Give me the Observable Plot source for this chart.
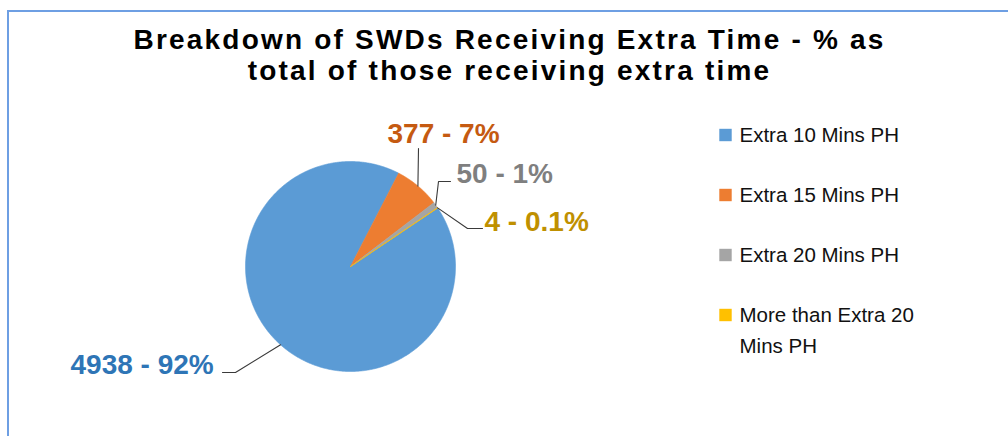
<!DOCTYPE html>
<html><head><meta charset="utf-8">
<script src="https://cdn.jsdelivr.net/npm/d3@7"></script>
<script src="https://cdn.jsdelivr.net/npm/@observablehq/plot@0.6"></script>
<style>body{margin:0;background:#fff;} svg{display:block;}</style>
</head><body><div id="chart"></div>
<script>
// ---- data ----
const categories = ["Extra 10 Mins PH", "Extra 15 Mins PH", "Extra 20 Mins PH", "More than Extra 20 Mins PH"];
const counts = [4938, 377, 50, 4];
const pctLabels = ["92%", "7%", "1%", "0.1%"];
const titleLines = ["Breakdown of SWDs Receiving Extra Time - % as", "total of those receiving extra time"];
const legendLines = [["Extra 10 Mins PH"], ["Extra 15 Mins PH"], ["Extra 20 Mins PH"], ["More than Extra 20", "Mins PH"]];

// ---- styles / layout ----
const sliceColors = ["#5B9BD5", "#ED7D31", "#A5A5A5", "#FFC000"];
const labelColors = ["#2E75B6", "#C55A11", "#7F7F7F", "#BF9000"];
const W = 1008, H = 436, cx = 350, cy = 266, R = 105;
const firstSliceAngle = 56.2; // degrees clockwise from 12 o'clock
const FONT = "'Liberation Sans', Arial, sans-serif";
const titleFs = 28, titleLs = 2.2, labelFs = 28, legendFs = 20.5;
const titleX = 509, titleBaselines = [48, 79];
const labelPos = [[70, 373], [387, 142], [456, 182], [484, 230]];
const leaderBends = [[[235, 372], [222, 372]], [[418, 148]], [[438, 181], [450, 181]], [[467, 228], [482, 228]]];
const legendSqX = 725, legendTextX = 739, legendBaselines = [141, 201, 261, 321], legendLineGap = 31;

// ---- derived ----
const arcs = d3.pie().sort(null).startAngle(firstSliceAngle * Math.PI / 180)
  .endAngle(firstSliceAngle * Math.PI / 180 + 2 * Math.PI)(counts);
const pt = (a, r) => ({x: cx + r * Math.sin(a), y: cy - r * Math.cos(a)});

const slicePts = [];
arcs.forEach((a, i) => {
  const n = Math.max(2, Math.ceil((a.endAngle - a.startAngle) / (Math.PI / 360)));
  slicePts.push({cat: categories[i], ...pt(0, 0)});
  for (let k = 0; k <= n; k++) {
    const ang = a.startAngle + (a.endAngle - a.startAngle) * k / n;
    slicePts.push({cat: categories[i], ...pt(ang, R)});
  }
  slicePts.push({cat: categories[i], ...pt(0, 0)});
});

const leaderPts = [];
arcs.forEach((a, i) => {
  const mid = (a.startAngle + a.endAngle) / 2;
  leaderPts.push({k: i, ...pt(mid, R)});
  leaderBends[i].forEach(([x, y]) => leaderPts.push({k: i, x, y}));
});

const labelData = arcs.map((a, i) => ({
  text: `${counts[i]} - ${pctLabels[i]}`, x: labelPos[i][0], y: labelPos[i][1] - 0.32 * labelFs, color: labelColors[i]
}));

const legendSq = categories.map((c, i) => ({cat: c, x: legendSqX, y: legendBaselines[i] - 6.5}));
const legendText = [];
legendLines.forEach((lines, i) => lines.forEach((t, j) =>
  legendText.push({text: t, x: legendTextX, y: legendBaselines[i] + j * legendLineGap - 0.32 * legendFs})));

const titleData = titleLines.map((t, i) => ({text: t, x: titleX, y: titleBaselines[i] - 0.32 * titleFs}));

const marks = [
  Plot.ruleY([10.5], {x1: 7, x2: W, stroke: "#6E9FE3", strokeWidth: 2}),
  Plot.ruleX([7.5], {y1: 10, y2: H, stroke: "#6E9FE3", strokeWidth: 2}),
  Plot.line(slicePts, {x: "x", y: "y", z: "cat", fill: "cat", stroke: "cat", strokeWidth: 0.6, curve: "linear"}),
  Plot.line(leaderPts, {x: "x", y: "y", z: "k", stroke: "#3a3a3a", strokeWidth: 1.1}),
  Plot.text(titleData, {x: "x", y: "y", text: "text", fontSize: titleFs, fontWeight: "bold", fill: "#000", textAnchor: "middle"}),
  ...labelData.map(d => Plot.text([d], {x: "x", y: "y", text: "text", fontSize: labelFs, fontWeight: "bold", fill: d.color, textAnchor: "start"})),
  Plot.dot(legendSq, {x: "x", y: "y", fill: "cat", symbol: "square", r: 7, stroke: null}),
  Plot.text(legendText, {x: "x", y: "y", text: "text", fontSize: legendFs, fill: "#111", textAnchor: "start"})
];

const chart = Plot.plot({
  width: W, height: H, margin: 0,
  style: {fontFamily: FONT, background: "#fff"},
  x: {domain: [0, W], range: [0, W], axis: null},
  y: {domain: [0, H], range: [0, H], axis: null},
  color: {domain: categories, range: sliceColors},
  marks
});
d3.select(chart).selectAll("text").filter(function() { return titleLines.includes(this.textContent); })
  .attr("letter-spacing", titleLs);
document.getElementById("chart").appendChild(chart);
</script>
</body></html>
